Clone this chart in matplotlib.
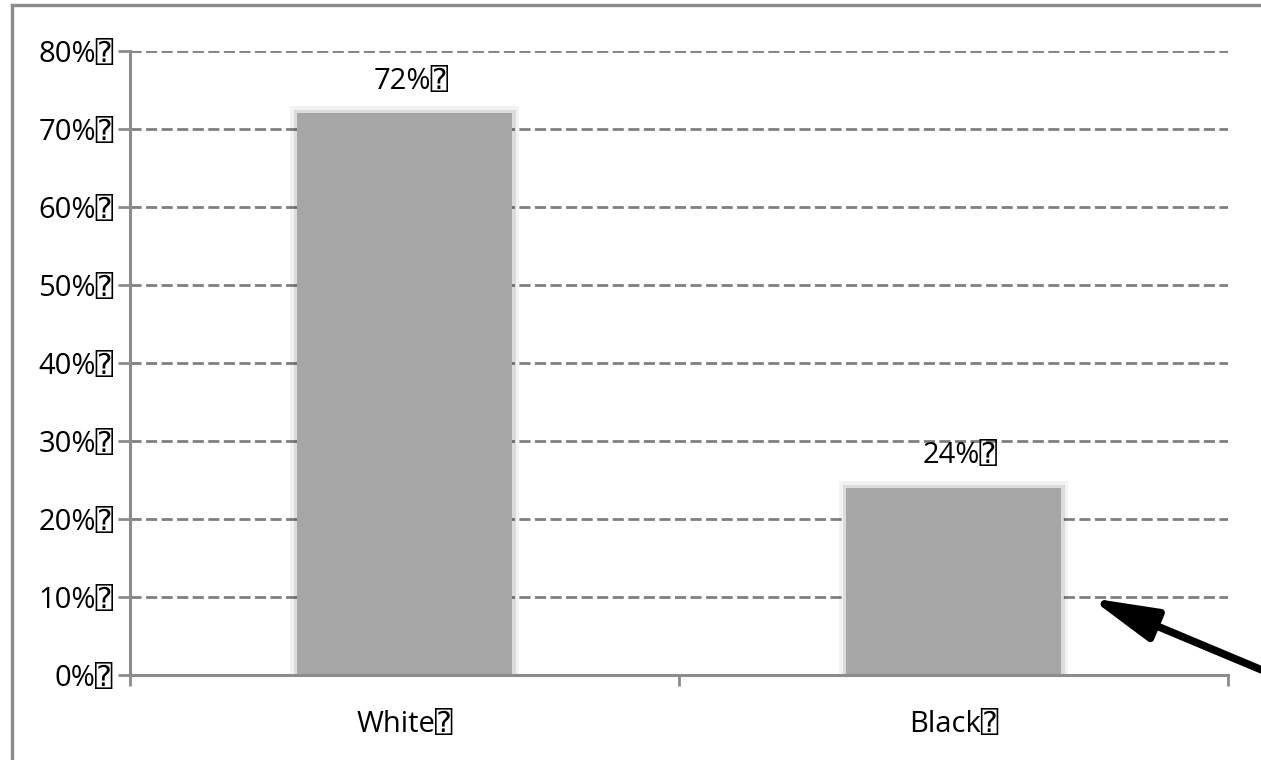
import matplotlib.pyplot as plt
from matplotlib.lines import Line2D

# race share of respondents
groups = ["White", "Black"]
shares = [72, 24]
ytick_vals = [0, 10, 20, 30, 40, 50, 60, 70, 80]

# the source document rendered an unknown symbol after every label
TOFU = "\u2370"

plt.rcParams['font.family'] = ['Open Sans', 'DejaVu Sans', 'DejaVu Sans Mono', 'Noto Sans']

W, H = 1261, 760
fig = plt.figure(figsize=(W / 100, H / 100), dpi=100)
ax = fig.add_axes([130 / W, (H - 675) / H, (1228 - 130) / W, (675 - 51) / H])

axis_grey = '#8c8c8c'
x = list(range(len(groups)))

# soft edge around the bars
ax.bar(x, shares, width=0.39, color='#a6a6a6', edgecolor='#f2f2f2', linewidth=10, zorder=1)
ax.bar(x, shares, width=0.39, color='#a6a6a6', edgecolor='#dcdcdc', linewidth=5, zorder=2)
ax.bar(x, shares, width=0.39, color='#a6a6a6', linewidth=0, zorder=3)

for xi, v in zip(x, shares):
    ax.annotate(f"{v}%{TOFU}", xy=(xi, v), xytext=(5, 23), textcoords='offset points',
                ha='center', va='center', fontsize=21, color='black', zorder=6)

ax.set_xlim(-0.5, 1.5)
ax.set_ylim(0, 80)
ax.set_yticks(ytick_vals)
ax.set_yticklabels([f"{v}%{TOFU}" for v in ytick_vals], fontsize=21)
ax.yaxis.grid(True, color='black', alpha=0.5, linewidth=2, linestyle=(0, (4, 1.6)), zorder=5)
ax.set_axisbelow(False)

ax.set_xticks(x)
ax.set_xticklabels([g + TOFU for g in groups], fontsize=21)
ax.set_xticks([-0.5, 0.5, 1.5], minor=True)
ax.tick_params(axis='x', which='major', length=0, pad=25)
ax.tick_params(axis='x', which='minor', length=8, width=2, color=axis_grey, direction='out')
ax.tick_params(axis='y', length=9, width=2, color=axis_grey, pad=3)

for side in ['top', 'right']:
    ax.spines[side].set_visible(False)
for side in ['left', 'bottom']:
    ax.spines[side].set_color(axis_grey)
    ax.spines[side].set_linewidth(2.2)
    ax.spines[side].set_zorder(7)

# frame around the chart
fig.add_artist(Line2D([12 / W, 12 / W], [0, 1 - 5 / H], color=axis_grey, linewidth=2.4))
fig.add_artist(Line2D([12 / W, 1], [1 - 5 / H, 1 - 5 / H], color=axis_grey, linewidth=2.4))

# arrow pointing at the Black bar
ax.annotate('', xy=(1090 / W, 1 - 598 / H), xycoords='figure fraction',
            xytext=(1300 / W, 1 - 686 / H), textcoords='figure fraction',
            arrowprops=dict(arrowstyle='-|>,head_length=2.0,head_width=0.5',
                            color='black', linewidth=5.5, mutation_scale=20,
                            shrinkA=0, shrinkB=0),
            annotation_clip=False)

fig.savefig('out.png', dpi=100)
